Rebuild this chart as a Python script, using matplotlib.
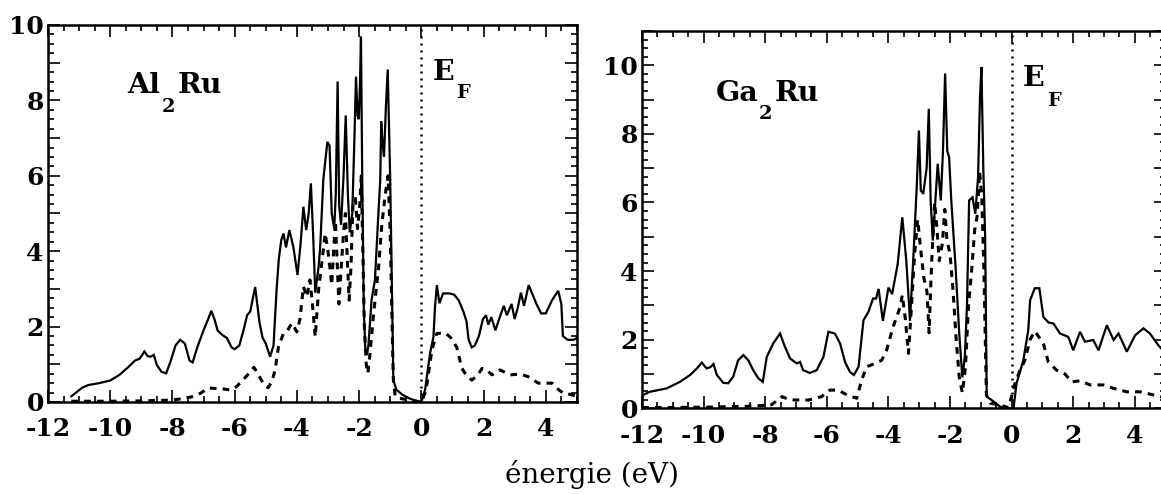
# -------------------------------------------------------------
# Imports
# -------------------------------------------------------------
import numpy as np
import matplotlib
matplotlib.use("Agg")
import matplotlib.pyplot as plt
from matplotlib.ticker import MultipleLocator, FuncFormatter

# -------------------------------------------------------------
# Data: total DOS (solid) and Ru-d partial DOS (dashed), states/eV
# -------------------------------------------------------------
al_energy = [-11.25, -11.1, -10.9, -10.7, -10.35, -10.0, -9.7, -9.4, -9.2, -9.05,
             -8.9, -8.8, -8.7, -8.6, -8.5, -8.35, -8.2, -8.05, -7.9, -7.75,
             -7.6, -7.45, -7.35, -7.2, -7.0, -6.85, -6.75, -6.65, -6.55, -6.4,
             -6.25, -6.1, -6.0, -5.85, -5.7, -5.6, -5.5, -5.34, -5.2, -5.1,
             -5.0, -4.86, -4.75, -4.65, -4.58, -4.5, -4.43, -4.35, -4.24, -4.11,
             -3.98, -3.88, -3.79, -3.7, -3.62, -3.55, -3.48, -3.41, -3.3, -3.25,
             -3.15, -3.02, -2.95, -2.88, -2.8, -2.75, -2.69, -2.64, -2.58, -2.5,
             -2.43, -2.36, -2.3, -2.22, -2.15, -2.1, -2.05, -2.01, -1.97, -1.94,
             -1.9, -1.85, -1.8, -1.75, -1.7, -1.6, -1.49, -1.38, -1.32, -1.29,
             -1.24, -1.2, -1.14, -1.08, -1.03, -1.0, -0.95, -0.9, -0.8, -0.6,
             -0.4, -0.2, 0.0, 0.12, 0.28, 0.39, 0.44, 0.5, 0.58, 0.7,
             0.9, 1.05, 1.2, 1.35, 1.45, 1.52, 1.62, 1.72, 1.85, 1.98,
             2.08, 2.15, 2.25, 2.38, 2.5, 2.65, 2.75, 2.9, 3.0, 3.1,
             3.2, 3.3, 3.45, 3.6, 3.7, 3.85, 4.0, 4.2, 4.4, 4.5,
             4.55, 4.7, 4.9, 5.0]
al_total = [0.15, 0.25, 0.38, 0.45, 0.5, 0.57, 0.72, 0.94, 1.1, 1.15,
            1.34, 1.22, 1.2, 1.25, 0.98, 0.8, 0.76, 1.1, 1.5, 1.65,
            1.55, 1.1, 1.05, 1.45, 1.9, 2.2, 2.42, 2.2, 1.9, 1.78,
            1.7, 1.45, 1.4, 1.5, 1.95, 2.3, 2.4, 3.05, 2.1, 1.7,
            1.55, 1.2, 1.5, 3.0, 3.8, 4.3, 4.47, 4.1, 4.56, 4.1,
            3.37, 4.2, 5.18, 4.56, 5.0, 5.8, 4.5, 2.9, 3.6, 4.12,
            5.9, 6.9, 6.8, 5.0, 4.6, 5.5, 8.5, 5.2, 4.7, 6.0,
            7.6, 5.5, 4.5, 5.0, 7.0, 8.63, 7.6, 7.5, 8.5, 9.69,
            6.0, 2.5, 1.4, 1.25, 1.5, 2.7, 3.24, 5.0, 5.9, 7.44,
            6.8, 6.5, 7.8, 8.82, 7.0, 5.9, 3.24, 0.58, 0.32, 0.19,
            0.1, 0.04, 0.0, 0.32, 1.29, 1.73, 2.53, 3.1, 2.62, 2.88,
            2.88, 2.85, 2.7, 2.4, 2.15, 1.65, 1.45, 1.5, 1.75, 2.2,
            2.3, 2.05, 2.25, 1.9, 2.2, 2.55, 2.3, 2.6, 2.2, 2.5,
            2.9, 2.55, 3.1, 2.8, 2.6, 2.35, 2.35, 2.7, 2.95, 2.6,
            1.75, 1.65, 1.65, 1.7]

al_d_energy = [-11.25, -10.0, -9.0, -8.0, -7.6, -7.3, -7.1, -6.85, -6.6, -6.4,
               -6.15, -5.95, -5.77, -5.55, -5.38, -5.2, -5.05, -4.92, -4.8, -4.7,
               -4.59, -4.43, -4.3, -4.16, -4.0, -3.9, -3.79, -3.68, -3.58, -3.5,
               -3.41, -3.3, -3.2, -3.09, -3.0, -2.93, -2.88, -2.82, -2.76, -2.7,
               -2.65, -2.58, -2.5, -2.44, -2.38, -2.32, -2.26, -2.2, -2.12, -2.05,
               -1.98, -1.93, -1.88, -1.83, -1.77, -1.72, -1.66, -1.55, -1.45, -1.38,
               -1.27, -1.16, -1.07, -1.0, -0.95, -0.9, -0.84, -0.7, -0.4, 0.0,
               0.15, 0.34, 0.5, 0.78, 0.95, 1.14, 1.3, 1.45, 1.62, 1.8,
               1.95, 2.1, 2.27, 2.53, 2.86, 3.18, 3.44, 3.76, 4.0, 4.2,
               4.36, 4.57, 4.8, 5.0]
al_d = [0.02, 0.02, 0.03, 0.05, 0.1, 0.15, 0.23, 0.37, 0.36, 0.35,
        0.32, 0.4, 0.55, 0.75, 0.92, 0.67, 0.45, 0.38, 0.55, 0.85,
        1.47, 1.82, 1.9, 2.09, 1.86, 2.2, 3.06, 2.79, 3.24, 2.6,
        1.73, 3.0, 3.68, 4.47, 4.0, 3.5, 3.1, 4.0, 4.8, 3.6,
        2.6, 3.5, 4.5, 5.0, 3.8, 2.7, 3.6, 5.2, 5.4, 4.6,
        5.2, 6.0, 4.0, 2.0, 1.0, 0.76, 1.2, 2.2, 3.0, 3.5,
        4.7, 5.5, 6.0, 4.5, 2.5, 0.6, 0.15, 0.1, 0.05, 0.0,
        0.3, 1.38, 1.82, 1.83, 1.7, 1.45, 0.9, 0.7, 0.58, 0.7,
        0.89, 0.85, 0.72, 0.85, 0.72, 0.74, 0.67, 0.5, 0.5, 0.5,
        0.36, 0.23, 0.2, 0.15]

ga_energy = [-12.0, -11.75, -11.2, -10.77, -10.44, -10.22, -10.06, -9.9, -9.78, -9.68,
             -9.57, -9.36, -9.2, -9.04, -8.88, -8.71, -8.55, -8.39, -8.22, -8.08,
             -7.95, -7.74, -7.52, -7.36, -7.19, -6.98, -6.87, -6.77, -6.55, -6.33,
             -6.11, -5.95, -5.74, -5.57, -5.41, -5.25, -5.12, -4.97, -4.81, -4.65,
             -4.5, -4.4, -4.32, -4.18, -4.0, -3.88, -3.7, -3.55, -3.42, -3.3,
             -3.18, -3.08, -3.01, -2.95, -2.87, -2.76, -2.69, -2.63, -2.56, -2.48,
             -2.4, -2.3, -2.23, -2.16, -2.09, -2.03, -1.96, -1.82, -1.7, -1.6,
             -1.52, -1.45, -1.38, -1.27, -1.18, -1.09, -1.03, -0.98, -0.92, -0.86,
             -0.81, -0.65, -0.38, -0.1, 0.06, 0.16, 0.38, 0.54, 0.6, 0.75,
             0.9, 1.03, 1.2, 1.36, 1.57, 1.84, 2.0, 2.22, 2.38, 2.65,
             2.82, 3.09, 3.31, 3.47, 3.74, 4.01, 4.28, 4.49, 4.76, 5.0]
ga_total = [0.37, 0.48, 0.58, 0.77, 0.97, 1.16, 1.33, 1.16, 1.2, 1.29,
            0.97, 0.74, 0.73, 0.92, 1.4, 1.55, 1.4, 1.11, 0.87, 0.77,
            1.5, 1.89, 2.18, 1.79, 1.45, 1.31, 1.35, 1.11, 1.03, 1.11,
            1.5, 2.23, 2.18, 1.89, 1.35, 1.06, 0.97, 1.21, 2.57, 2.81,
            3.2, 3.2, 3.48, 2.55, 3.52, 3.33, 4.2, 5.57, 4.3, 2.55,
            4.6, 6.5, 8.1, 6.35, 6.25, 7.0, 8.73, 6.06, 4.89, 6.0,
            7.13, 6.06, 7.5, 9.76, 7.5, 7.32, 6.06, 4.11, 2.16, 0.9,
            1.5, 3.0, 6.06, 6.15, 5.67, 6.74, 9.0, 9.95, 7.0, 5.0,
            0.34, 0.24, 0.05, 0.0, 0.0, 0.73, 1.4, 2.28, 3.15, 3.5,
            3.5, 2.66, 2.5, 2.47, 2.18, 2.08, 1.69, 2.23, 1.94, 1.99,
            1.69, 2.42, 1.99, 2.18, 1.65, 2.13, 2.33, 2.18, 1.84, 1.6]

ga_d_energy = [-12.0, -10.0, -8.5, -7.8, -7.46, -7.2, -6.98, -6.6, -6.17, -5.9,
               -5.63, -5.35, -5.03, -4.87, -4.71, -4.45, -4.22, -4.06, -3.85, -3.62,
               -3.55, -3.45, -3.35, -3.25, -3.15, -3.05, -2.95, -2.85, -2.75, -2.68,
               -2.6, -2.5, -2.43, -2.35, -2.25, -2.17, -2.1, -2.0, -1.9, -1.8,
               -1.7, -1.6, -1.5, -1.4, -1.3, -1.2, -1.12, -1.04, -0.97, -0.9,
               -0.82, -0.7, -0.4, -0.1, 0.1, 0.27, 0.43, 0.6, 0.75, 1.03,
               1.19, 1.46, 1.73, 1.95, 2.22, 2.55, 2.98, 3.31, 3.74, 4.17,
               4.6, 5.0]
ga_d = [0.02, 0.03, 0.06, 0.1, 0.34, 0.25, 0.24, 0.24, 0.34, 0.53,
        0.53, 0.39, 0.29, 0.82, 1.21, 1.3, 1.4, 1.69, 2.37, 2.95,
        3.3, 2.6, 1.6, 3.0, 4.5, 5.5, 4.6, 3.8, 3.4, 2.2,
        4.2, 6.0, 5.3, 4.3, 4.8, 5.8, 4.9, 4.5, 3.4, 2.0,
        0.9, 0.45, 1.2, 3.0, 4.0, 5.2, 5.6, 6.9, 6.2, 4.0,
        0.4, 0.15, 0.1, 0.02, 0.7, 1.1, 1.4, 2.0, 2.25, 1.89,
        1.35, 1.11, 1.0, 0.77, 0.8, 0.68, 0.68, 0.58, 0.48, 0.48,
        0.39, 0.3]

# -------------------------------------------------------------
# Style
# -------------------------------------------------------------
plt.rcParams['font.family'] = ['DejaVu Serif', 'DejaVu Sans']
plt.rcParams['axes.unicode_minus'] = False

TICK_FONT = dict(size=18, weight='bold')
LABEL_FONT = dict(size=20.5, weight='bold')
SUB_FONT = dict(size=14, weight='bold')


# -------------------------------------------------------------
# Helper Functions
# -------------------------------------------------------------

def even_only(value, pos):
    """Label only the even integer ticks on the DOS axis."""
    v = int(round(value))
    return str(v) if v % 2 == 0 else ''


def draw_panel(ax, energy, total, d_energy, d_part, ymax, name, name_pos, ef_pos):
    """
    Draws one density-of-states panel.

    Parameters:
    -----------
    ax : matplotlib Axes
    energy, total : lists
        Energies (eV) and total DOS.
    d_energy, d_part : lists
        Energies (eV) and partial d DOS.
    ymax : float
        Upper limit of the DOS axis.
    name : tuple of str
        Compound written as (element, index, element).
    name_pos, ef_pos : tuple
        Anchor points of the compound label and the E_F label.
    """
    ax.plot(energy, total, color='black', lw=1.6, solid_joinstyle='miter')
    ax.plot(d_energy, d_part, color='black', lw=2.2, linestyle=(0, (2.2, 2.0)))
    ax.axvline(0.0, color='black', lw=1.8, linestyle=(0, (0.8, 2.0)))

    ax.set_xlim(-12, 5)
    ax.set_ylim(0, ymax)

    ax.xaxis.set_major_locator(MultipleLocator(2))
    ax.xaxis.set_minor_locator(MultipleLocator(0.5))
    ax.yaxis.set_major_locator(MultipleLocator(1))
    ax.yaxis.set_minor_locator(MultipleLocator(0.25))
    ax.yaxis.set_major_formatter(FuncFormatter(even_only))

    ax.tick_params(which='both', direction='in', top=True, right=True, width=1.2)
    ax.tick_params(which='major', length=8.5)
    ax.tick_params(which='minor', length=4.5)
    ax.tick_params(axis='x', pad=11)
    ax.tick_params(axis='y', pad=3)
    for lab in ax.get_xticklabels() + ax.get_yticklabels():
        lab.set_fontsize(TICK_FONT['size'])
        lab.set_fontweight(TICK_FONT['weight'])
    for spine in ax.spines.values():
        spine.set_linewidth(1.8)

    # compound label with dropped index
    (x0, y0), (x1, y1), (x2, y2) = name_pos
    ax.text(x0, y0, name[0], ha='left', va='baseline', **LABEL_FONT)
    ax.text(x1, y1, name[1], ha='left', va='baseline', **SUB_FONT)
    ax.text(x2, y2, name[2], ha='left', va='baseline', **LABEL_FONT)

    # Fermi level label
    (ex, ey), (fx, fy) = ef_pos
    ax.text(ex, ey, 'E', ha='left', va='baseline', **LABEL_FONT)
    ax.text(fx, fy, 'F', ha='left', va='baseline', **SUB_FONT)


# -------------------------------------------------------------
# Figure
# -------------------------------------------------------------
fig = plt.figure(figsize=(11.61, 4.95), dpi=100)
ax_al = fig.add_axes([0.0413, 0.1879, 0.4556, 0.7616])
ax_ga = fig.add_axes([0.5530, 0.1752, 0.4510, 0.7622])

draw_panel(ax_al, al_energy, al_total, al_d_energy, al_d, 10,
           ('Al', '2', 'Ru'),
           ((-9.46, 8.2), (-8.33, 7.69), (-7.82, 8.2)),
           ((0.38, 8.54), (1.12, 8.06)))
draw_panel(ax_ga, ga_energy, ga_total, ga_d_energy, ga_d, 11,
           ('Ga', '2', 'Ru'),
           ((-9.6, 8.96), (-8.2, 8.44), (-7.71, 8.96)),
           ((0.37, 9.4), (1.15, 8.82)))

fig.text(0.51, 0.024, 'énergie (eV)', ha='center', va='baseline', fontsize=20)

fig.savefig('out.png', dpi=100)
